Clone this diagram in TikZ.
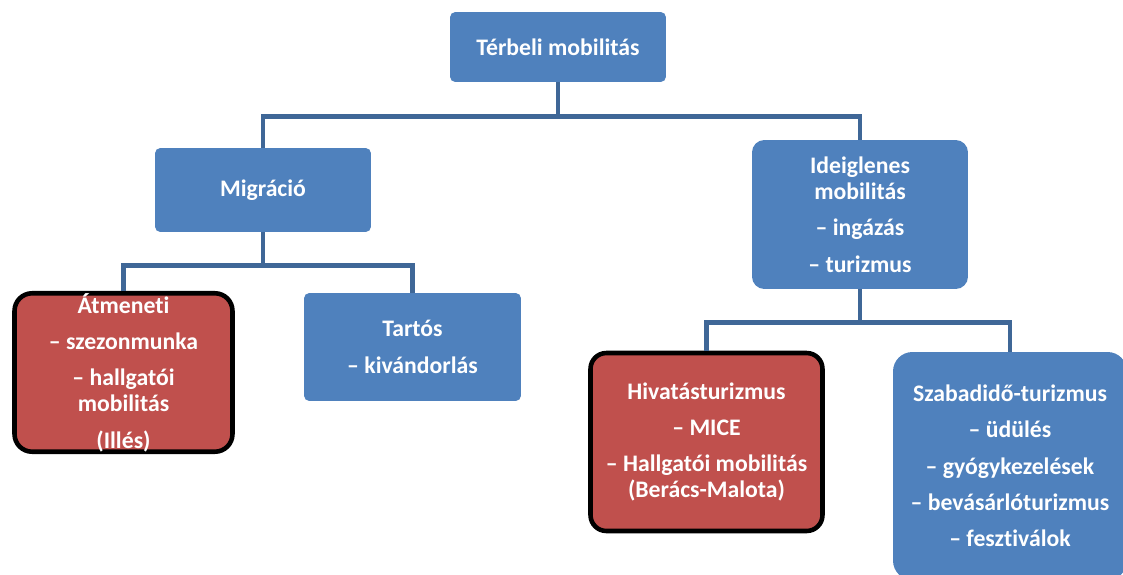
\documentclass[tikz,border=0pt]{standalone}
\usepackage{fontspec}
\setmainfont{Carlito}[Ligatures=NoCommon]
\usepackage{tikz}

\definecolor{boxblue}{HTML}{4F81BD}
\definecolor{boxred}{HTML}{C0504D}
\definecolor{linkblue}{HTML}{3F6797}

\tikzset{
	box/.style={fill=boxblue, text=white, align=center, inner sep=0pt, rounded corners=3pt,
		font=\fontsize{13.5}{14.7}\selectfont\bfseries},
	redbox/.style={box, fill=boxred, draw=black, line width=2.6pt},
	conn/.style={draw=linkblue, line width=2.8pt}
}

\begin{document}
\begin{tikzpicture}[x=0.02cm,y=-0.02cm]
			\clip (0,0) rectangle (1123,575);
			% top level
			\node[box, minimum width=4.32cm, minimum height=1.4cm] (root) at (558,47) {Térbeli mobilitás};
			% second level
			\node[box, minimum width=4.32cm, minimum height=1.68cm] (migr) at (263,190) {Migráció};
			\node[box, minimum width=4.32cm, minimum height=2.98cm, rounded corners=7pt] (ideig) at (860,214.5)
				{Ideiglenes\\mobilitás\\[6pt]– ingázás\\[6pt]– turizmus};
			% third level
			\node[redbox, minimum width=4.36cm, minimum height=3.08cm, rounded corners=10pt] (atm) at (123.5,372.5)
				{Átmeneti\\[6pt]– szezonmunka\\[6pt]– hallgatói\\mobilitás\\[6pt](Illés)};
			\node[box, minimum width=4.34cm, minimum height=2.16cm] (tart) at (412.5,347) {Tartós\\[6pt]– kivándorlás};
			\node[redbox, minimum width=4.64cm, minimum height=3.56cm, rounded corners=9pt] (hiv) at (706.5,442)
				{Hivatásturizmus\\[6pt]– MICE\\[6pt]– Hallgatói mobilitás\\(Berács-Malota)};
			\node[box, minimum width=4.68cm, minimum height=4.56cm, rounded corners=11pt] (szab) at (1010,466)
				{Szabadidő-turizmus\\[6pt]– üdülés\\[6pt]– gyógykezelések\\[6pt]– bevásárlóturizmus\\[6pt]– fesztiválok};
			% connectors
			\draw[conn] (root.south) -- ++(0,34) -| (migr.north);
			\draw[conn] (root.south) -- ++(0,34) -| (ideig.north);
			\draw[conn] (migr.south) -- ++(0,33) -| (atm.north);
			\draw[conn] (migr.south) -- ++(0,33) -| (tart.north);
			\draw[conn] (ideig.south) -- ++(0,33) -| (hiv.north);
			\draw[conn] (ideig.south) -- ++(0,33) -| (szab.north);
		\end{tikzpicture}
\end{document}
